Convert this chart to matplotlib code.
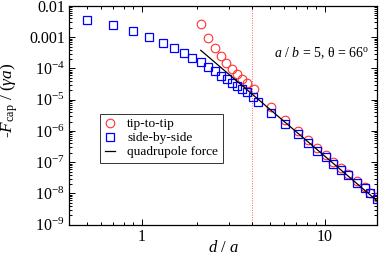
import matplotlib
matplotlib.use("Agg")
import matplotlib.pyplot as plt
from matplotlib.ticker import LogLocator, NullFormatter

plt.rcParams["font.family"] = ["Liberation Serif", "DejaVu Serif"]
plt.rcParams["mathtext.fontset"] = "custom"
plt.rcParams["mathtext.rm"] = "Liberation Serif"
plt.rcParams["mathtext.it"] = "Liberation Serif:italic"
plt.rcParams["mathtext.bf"] = "Liberation Serif:bold"

# tip-to-tip (red circles)
tip_d = [2.11, 2.30, 2.50, 2.72, 2.90, 3.11, 3.31, 3.53, 3.76, 4.08,
         5.1, 6.1, 7.1, 8.1, 9.1, 10.1, 11.1, 12.2, 13.4, 15.0, 16.6, 17.6, 19.3]
tip_f = [2.65e-3, 9.25e-4, 4.43e-4, 2.51e-4, 1.53e-4, 9.6e-5, 6.65e-5, 4.7e-5, 3.43e-5, 2.2e-5,
         5.7e-6, 2.24e-6, 1.0e-6, 5.1e-7, 2.79e-7, 1.7e-7, 1.04e-7, 6.4e-8, 4.2e-8, 2.5e-8,
         1.66e-8, 1.06e-8, 7.9e-9]

# side-by-side (blue squares)
side_d = [0.5, 0.7, 0.9, 1.09, 1.3, 1.5, 1.71, 1.89, 2.10, 2.30, 2.50, 2.72, 2.92, 3.12,
          3.33, 3.53, 3.76, 4.05, 4.31,
          5.1, 6.1, 7.1, 8.1, 9.1, 10.1, 11.1, 12.2, 13.4, 15.0, 16.6, 17.6, 19.3]
side_f = [3.64e-3, 2.41e-3, 1.55e-3, 1.04e-3, 6.7e-4, 4.53e-4, 3.13e-4, 2.21e-4, 1.58e-4,
          1.09e-4, 8.3e-5, 5.9e-5, 4.6e-5, 3.5e-5, 2.69e-5, 2.16e-5, 1.73e-5, 1.2e-5, 8.45e-6,
          3.68e-6, 1.64e-6, 7.83e-7, 4.04e-7, 2.29e-7, 1.44e-7, 8.8e-8, 5.65e-8, 3.9e-8,
          2.22e-8, 1.47e-8, 1.06e-8, 6.5e-9]

# quadrupole force line (power law d^-5, straight on log-log)
quad_d = [2.1, 19.3]
quad_f = [3.82e-4, 5.85e-9]

d_mark = 4.0

yticks = [1e-2, 1e-3, 1e-4, 1e-5, 1e-6, 1e-7, 1e-8, 1e-9]
ylabels = ["0.01", "0.001", r"10$^{-4}$", r"10$^{-5}$", r"10$^{-6}$",
           r"10$^{-7}$", r"10$^{-8}$", r"10$^{-9}$"]

fig = plt.figure(figsize=(3.82, 2.58), dpi=100)
ax = fig.add_axes([69 / 382, 1 - 224.7 / 258, 308 / 382, 218.7 / 258])

ax.plot(tip_d, tip_f, "o", mfc="none", mec="#ff3030", ms=6.2, mew=0.8,
        label="tip-to-tip")
ax.plot(side_d, side_f, "s", mfc="none", mec="blue", ms=5.2, mew=0.9,
        label="side-by-side")
ax.plot(quad_d, quad_f, "-", color="black", lw=0.9, label="quadrupole force")
ax.axvline(d_mark, color="#ff6060", lw=0.7, ls=(0, (1, 1.5)), zorder=0)

ax.set_xscale("log")
ax.set_yscale("log")
ax.set_xlim(0.4, 19.3)
ax.set_ylim(1e-9, 1e-2)

ax.set_yticks(yticks)
ax.set_yticklabels(ylabels)
ax.set_xticks([1, 10])
ax.set_xticklabels(["1", "10"])
ax.xaxis.set_minor_locator(LogLocator(base=10, subs=range(2, 10)))
ax.yaxis.set_minor_locator(LogLocator(base=10, subs=range(2, 10), numticks=20))
ax.xaxis.set_minor_formatter(NullFormatter())
ax.yaxis.set_minor_formatter(NullFormatter())

ax.tick_params(which="both", direction="in", top=True, right=True,
               labelsize=11.5, width=0.7)
ax.tick_params(which="major", length=4.5, pad=3)
ax.tick_params(which="minor", length=2.3)
for s in ax.spines.values():
    s.set_linewidth(0.9)

ax.set_xlabel(r"$d$ / $a$", fontsize=12)
ax.xaxis.set_label_coords(0.5, -(239.5 - 224.7) / 218.7)
ax.set_ylabel(r"-$F_{\mathrm{cap}}$ / ($\gamma a$)", fontsize=12.5)
ax.yaxis.set_label_coords((20.5 - 69) / 308, 0.57)

ax.text(0.666, 0.785, r"$a$ / $b$ = 5, θ = 66$^{\mathrm{o}}$", transform=ax.transAxes,
        fontsize=10, ha="left", va="center")

leg = ax.legend(loc="upper left", bbox_to_anchor=(31 / 308, (224.7 - 113.5) / 218.7),
                fontsize=9.6, frameon=True, fancybox=False, borderaxespad=0,
                handlelength=0.8, handletextpad=0.9, borderpad=0.35,
                labelspacing=0.12, numpoints=1)
leg.get_frame().set_edgecolor("black")
leg.get_frame().set_linewidth(0.7)

fig.savefig("out.png", dpi=100)
